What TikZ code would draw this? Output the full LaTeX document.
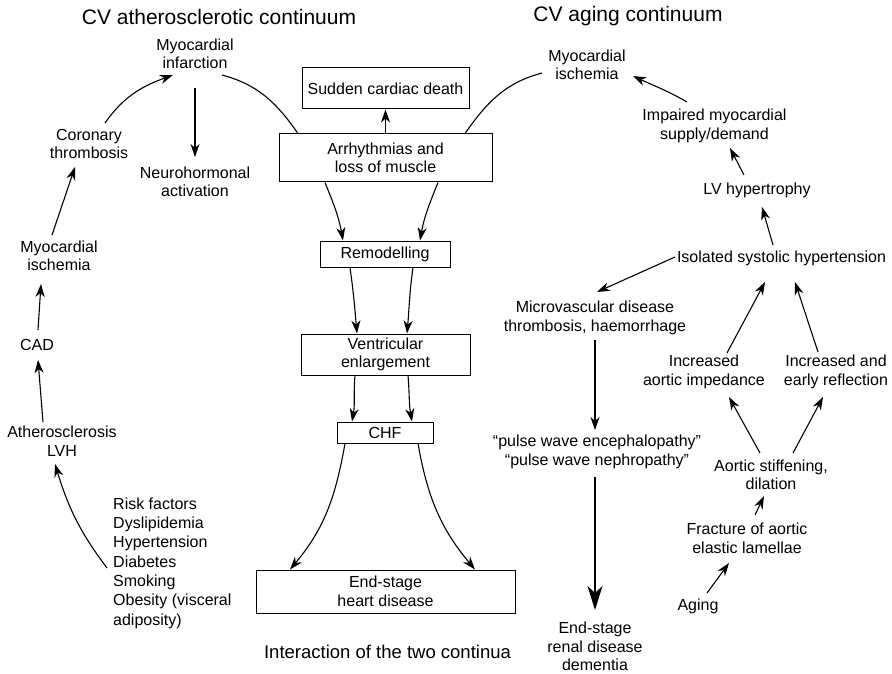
\documentclass[tikz,border=0pt]{standalone}
\usepackage{fontspec}
\setmainfont{Liberation Sans}
\usetikzlibrary{arrows.meta}
\begin{document}
\begin{tikzpicture}[x=1pt,y=1pt,
  txt/.style={align=center, font=\fontsize{16}{18.5}\selectfont, inner sep=2pt},
  heading/.style={font=\fontsize{21}{25}\selectfont, inner sep=0pt},
  caption/.style={font=\fontsize{18.5}{22}\selectfont, inner sep=0pt},
  box/.style={draw, line width=1pt, inner sep=0pt, align=center,
    font=\fontsize{16}{18.5}\selectfont},
  link/.style={line width=1.1pt},
  arr/.style={line width=1.1pt, -{Stealth[length=13pt,width=9pt,inset=4pt]}},
  bigarr/.style={line width=2pt, -{Stealth[length=24pt,width=15pt,inset=7pt]}}]

\useasboundingbox (0,0) rectangle (892,-674);

% headings
\node[heading] (t1) at (219,-17) {CV atherosclerotic continuum};
\node[heading] (t2) at (628,-16) {CV aging continuum};
\node[caption] (t3) at (387.5,-652) {Interaction of the two continua};

% atherosclerotic continuum
\node[txt] (mi) at (195,-54) {Myocardial\\infarction};
\node[txt] (ct) at (89,-144) {Coronary\\thrombosis};
\node[txt] (neuro) at (195,-182) {Neurohormonal\\activation};
\node[txt] (mis) at (59,-256) {Myocardial\\ischemia};
\node[txt] (cad) at (37,-345) {CAD};
\node[txt] (ath) at (62,-441) {Atherosclerosis\\LVH};
\node[txt, align=left, anchor=west, font=\fontsize{16}{19.3}\selectfont] (rf) at (111,-563)
  {Risk factors\\Dyslipidemia\\Hypertension\\Diabetes\\Smoking\\Obesity (visceral\\adiposity)};

% heart failure chain
\node[box, minimum width=167pt, minimum height=41pt] (scd) at (385.5,-88.5) {Sudden cardiac death};
\node[box, minimum width=213pt, minimum height=48pt] (arr) at (385.5,-158) {Arrhythmias and\\loss of muscle};
\node[box, minimum width=130pt, minimum height=26pt] (rem) at (385,-254) {Remodelling};
\node[box, minimum width=169pt, minimum height=41pt] (ve) at (385.5,-354.5) {Ventricular\\enlargement};
\node[box, minimum width=96pt, minimum height=21pt] (chf) at (385,-432.5) {CHF};
\node[box, minimum width=259pt, minimum height=43pt] (es) at (385.5,-591.5) {End-stage\\heart disease};

% aging continuum
\node[txt] (rmis) at (587,-65) {Myocardial\\ischemia};
\node[txt] (imp) at (714.5,-126) {Impaired myocardial\\supply/demand};
\node[txt] (lv) at (757,-190) {LV hypertrophy};
\node[txt] (isol) at (781.5,-258) {Isolated systolic hypertension};
\node[txt] (micro) at (595,-318) {Microvascular disease\\thrombosis, haemorrhage};
\node[txt] (pulse) at (597,-452) {“pulse wave encephalopathy”\\“pulse wave nephropathy”};
\node[txt] (esr) at (595,-646.5) {End-stage\\renal disease\\dementia};
\node[txt] (imped) at (704,-372) {Increased\\aortic impedance};
\node[txt] (refl) at (836,-372) {Increased and\\early reflection};
\node[txt] (aortic) at (771,-475) {Aortic stiffening,\\dilation};
\node[txt] (frac) at (747,-538.5) {Fracture of aortic\\elastic lamellae};
\node[txt] (aging) at (698,-606) {Aging};

% left cycle
\draw[arr] ([shift={(-4,-5)}]rf.west) to[out=127,in=-73] ([shift={(-7,-23)}]ath.center);
\draw[arr] ([shift={(-19,19)}]ath.center) -- ([shift={(1,-15)}]cad.center);
\draw[arr] ([shift={(1,15)}]cad.center) -- ([shift={(-18,-28)}]mis.center);
\draw[arr] ([shift={(-7,21)}]mis.center) -- ([shift={(-14,-23)}]ct.center);
\draw[arr] ([shift={(16,21)}]ct.center) to[out=55,in=-160] ([shift={(-22,-21)}]mi.center);
\draw[arr] ([shift={(0,-34)}]mi.center) -- ([shift={(0,25)}]neuro.center);
\draw[link] ([shift={(27,-21)}]mi.center) to[out=-15,in=125] ([xshift=-87.5pt]arr.north);

% centre chain
\draw[arr] (arr.north) -- (scd.south);
\draw[arr] ([xshift=-60.5pt]arr.south) to[out=-68,in=100] ([xshift=-42pt]rem.north);
\draw[arr] ([xshift=52.5pt]arr.south) to[out=-112,in=80] ([xshift=35pt]rem.north);
\draw[arr] ([xshift=-35pt]rem.south) to[out=-82,in=95] ([xshift=-28.5pt]ve.north);
\draw[arr] ([xshift=28pt]rem.south) to[out=-98,in=85] ([xshift=21.5pt]ve.north);
\draw[arr] ([xshift=-30.5pt]ve.south) to[out=-95,in=80] ([xshift=-33pt]chf.north);
\draw[arr] ([xshift=22.5pt]ve.south) to[out=-85,in=100] ([xshift=27pt]chf.north);
\draw[arr] ([xshift=-40pt]chf.south) to[out=-100,in=50] ([xshift=-95.5pt]es.north);
\draw[arr] ([xshift=33pt]chf.south) to[out=-80,in=130] ([xshift=89.5pt]es.north);

% right cycle
\draw[link] ([xshift=79.5pt]arr.north) to[out=55,in=-165] ([shift={(-45,-8)}]rmis.center);
\draw[arr] ([shift={(-27.5,24)}]imp.center) to[out=150,in=-25] ([shift={(46,-11)}]rmis.center);
\draw[arr] ([shift={(-13,15)}]lv.center) -- ([shift={(15.5,-22)}]imp.center);
\draw[arr] ([shift={(-8.5,13)}]isol.center) -- ([shift={(5,-17)}]lv.center);
\draw[arr] ([shift={(-106.5,1)}]isol.center) -- ([shift={(2,26)}]micro.center);
\draw[arr] ([shift={(0,-22)}]micro.center) -- ([shift={(-2,22)}]pulse.center);
\draw[bigarr] ([shift={(-2,-25)}]pulse.center) -- ([shift={(0,36.5)}]esr.center);
\draw[arr] ([shift={(23,19)}]imped.center) -- ([shift={(-16.5,-24)}]isol.center);
\draw[arr] ([shift={(-18,20)}]refl.center) -- ([shift={(13.5,-24)}]isol.center);
\draw[arr] ([shift={(-11,22)}]aortic.center) -- ([shift={(25,-25)}]imped.center);
\draw[arr] ([shift={(22,22)}]aortic.center) -- ([shift={(-13,-25)}]refl.center);
\draw[arr] ([shift={(8,23.5)}]frac.center) -- ([shift={(-7,-21)}]aortic.center);
\draw[arr] ([shift={(9,13)}]aging.center) -- ([shift={(-18,-24.5)}]frac.center);

\end{tikzpicture}
\end{document}
